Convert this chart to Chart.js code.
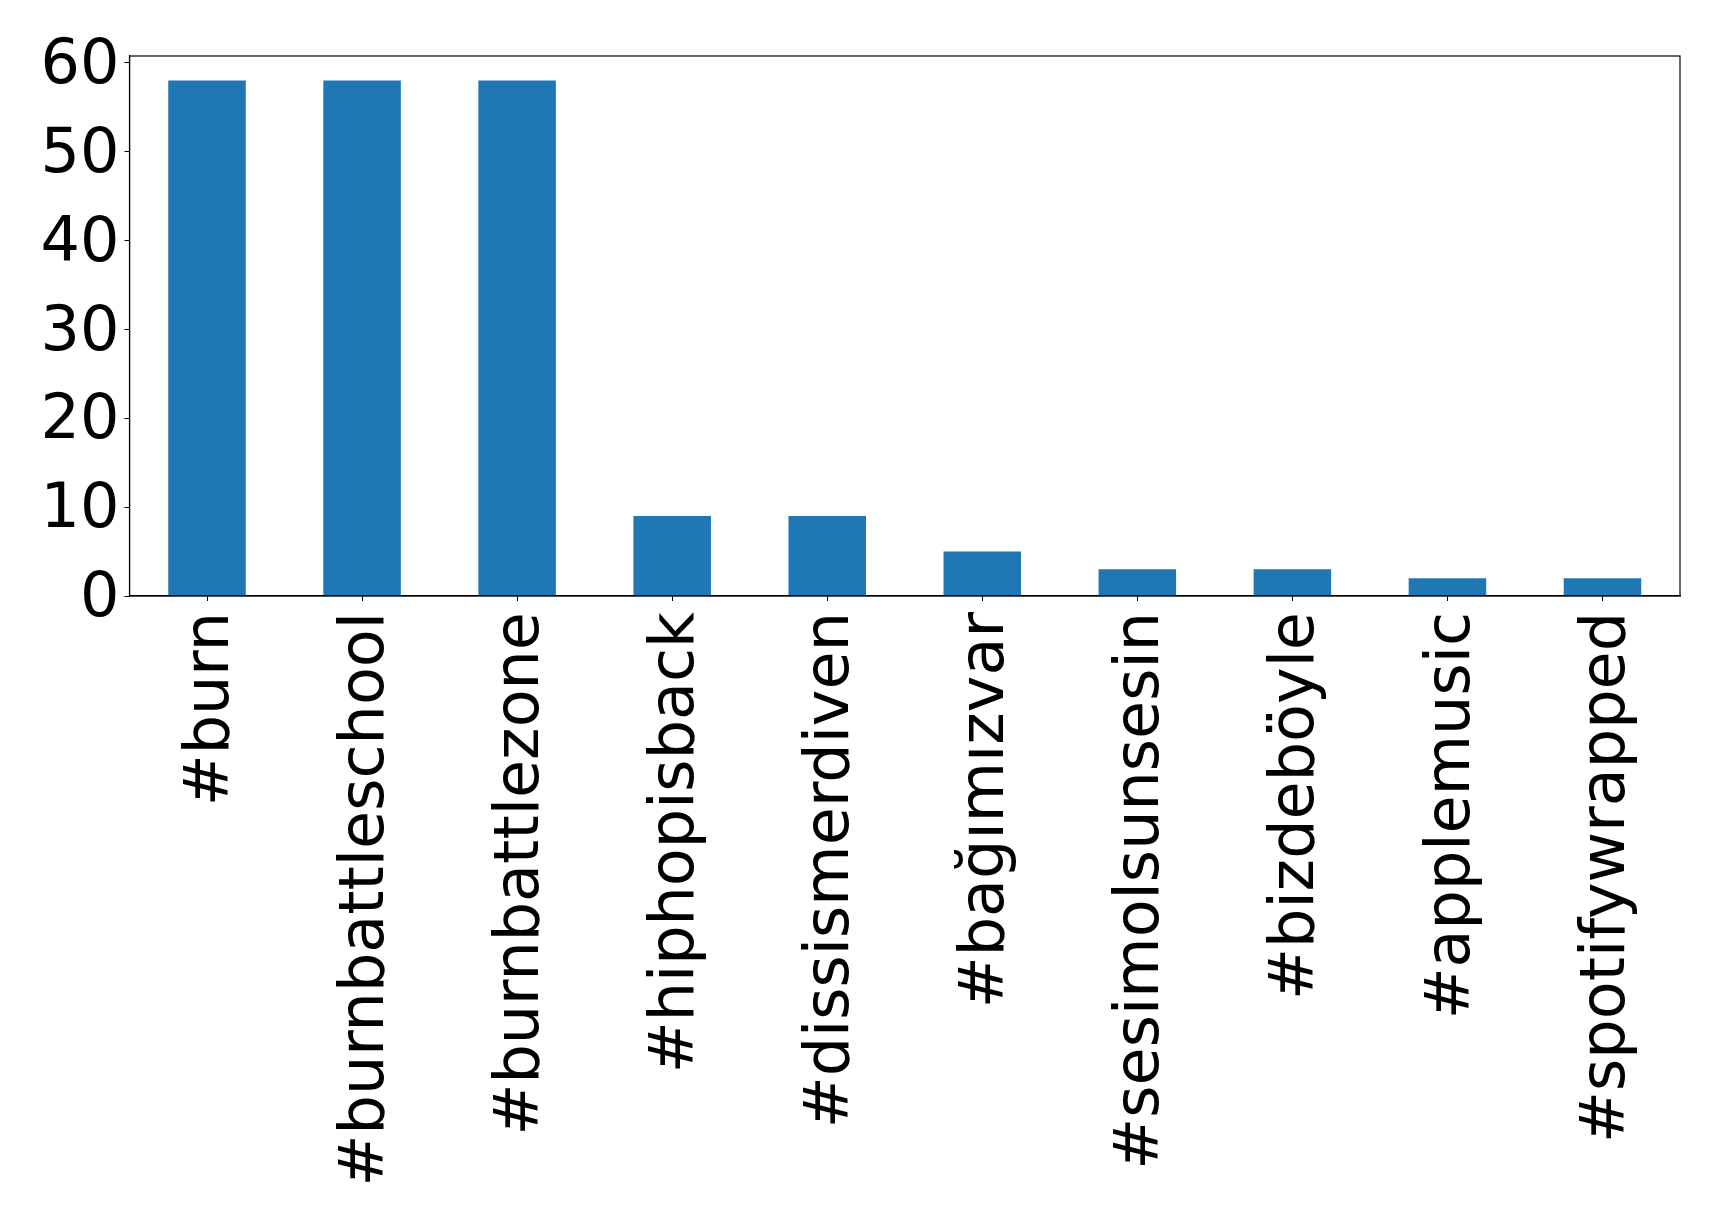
<!DOCTYPE html>
<html>
<head>
<meta charset="utf-8">
<script src="https://cdn.jsdelivr.net/npm/chart.js@4"></script>
<style>
  html, body { margin: 0; padding: 0; background: #fff; }
  #wrap { width: 1719px; height: 1223px; }
</style>
</head>
<body>
<div id="wrap"><canvas id="c" width="1719" height="1223"></canvas></div>
<script>
const categories = ["#burn", "#burnbattleschool", "#burnbattlezone", "#hiphopisback", "#dissismerdiven", "#bağımızvar", "#sesimolsunsesin", "#bizdeböyle", "#applemusic", "#spotifywrapped"];
const counts = [58, 58, 58, 9, 9, 5, 3, 3, 2, 2];
const yTicks = [0, 10, 20, 30, 40, 50, 60];

const frame = {
  id: 'frame',
  afterDraw(chart) {
    const a = chart.chartArea, ctx = chart.ctx;
    ctx.save();
    ctx.strokeStyle = '#000';
    ctx.lineWidth = 1.2;
    ctx.strokeRect(a.left, a.top, a.right - a.left, a.bottom - a.top);
    ctx.restore();
  }
};

new Chart(document.getElementById('c'), {
  type: 'bar',
  data: {
    labels: categories,
    datasets: [{
      data: counts,
      backgroundColor: '#1f77b4',
      borderWidth: 0,
      categoryPercentage: 1.0,
      barPercentage: 0.5
    }]
  },
  options: {
    responsive: false,
    animation: false,
    devicePixelRatio: 1,
    layout: { padding: { left: 0, right: 39, top: 56, bottom: 0 } },
    plugins: { legend: { display: false }, tooltip: { enabled: false } },
    scales: {
      x: {
        offset: true,
        grid: { display: true, drawOnChartArea: false, drawTicks: true, tickLength: 5, tickColor: '#000', offset: false },
        border: { display: true, color: '#000', width: 1.2 },
        ticks: {
          autoSkip: false, maxRotation: 90, minRotation: 90,
          padding: 11,
          labelOffset: 5,
          color: '#000',
          font: { family: 'DejaVu Sans', size: 62 }
        },
        afterFit(scale) { scale.height = 1223 - 596; }
      },
      y: {
        min: 0, max: 60.77,
        grid: { display: true, drawOnChartArea: false, drawTicks: true, tickLength: 5, tickColor: '#000' },
        border: { display: true, color: '#000', width: 1.2 },
        ticks: {
          stepSize: 10, includeBounds: false,
          padding: 5,
          labelOffset: 4,
          color: '#000',
          font: { family: 'DejaVu Sans', size: 62 },
          callback: (v) => yTicks.includes(v) ? String(v) : ''
        },
        afterFit(scale) { scale.width = 129.5; }
      }
    }
  },
  plugins: [frame]
});
</script>
</body>
</html>
